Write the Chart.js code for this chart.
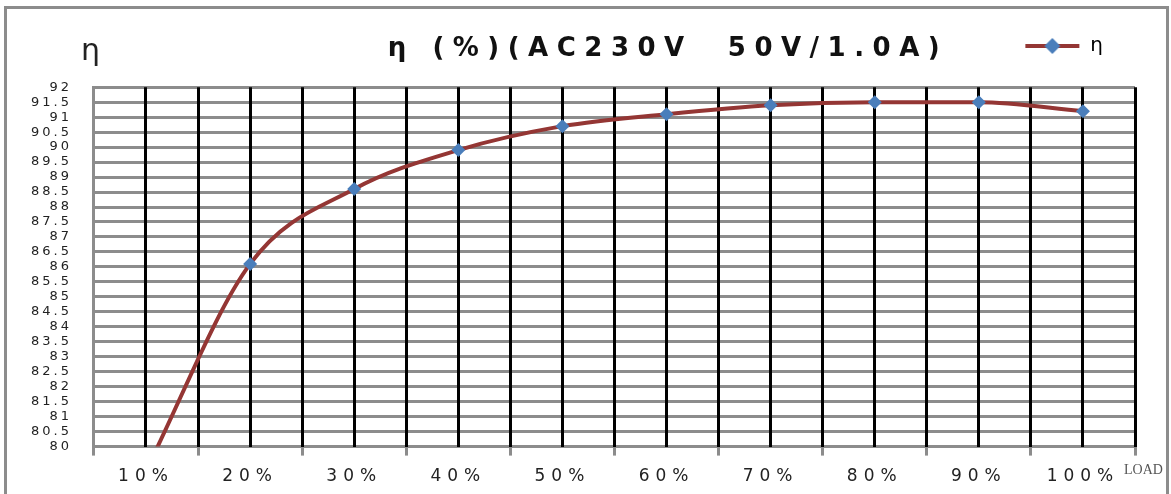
<!DOCTYPE html>
<html>
<head>
<meta charset="utf-8">
<script src="https://cdn.jsdelivr.net/npm/chart.js@4.4.0/dist/chart.umd.min.js"></script>
<style>
    html, body { margin: 0; padding: 0; background: #fff; overflow: hidden; }
    #frame { position: absolute; left: 4px; top: 6px; width: 1159px; height: 600px; border: 3px solid #8c8c8c; border-bottom: none; }
    #wrap { position: absolute; left: 0; top: 0; width: 1171px; height: 494px; }
</style>
</head>
<body>
<div id="frame"></div>
<div id="wrap"><canvas id="effChart" width="1171" height="494"></canvas></div>
<script>
// data
const categories = ['10%', '20%', '30%', '40%', '50%', '60%', '70%', '80%', '90%', '100%'];
const efficiency = [79.2, 86.1, 88.6, 89.9, 90.7, 91.1, 91.4, 91.5, 91.5, 91.2];
const yTicks = { min: 80, max: 92, step: 0.5 };

const lineColor = '#943634';
const markColor = '#4a7ebb';

// legend symbol: line with a diamond in the middle
function legendSymbol() {
    const c = document.createElement('canvas');
    c.width = 56; c.height = 18;
    const g = c.getContext('2d');
    g.strokeStyle = lineColor;
    g.lineWidth = 4;
    g.beginPath(); g.moveTo(1, 9); g.lineTo(55, 9); g.stroke();
    g.fillStyle = markColor;
    g.beginPath(); g.moveTo(28, 1); g.lineTo(36, 9); g.lineTo(28, 17); g.lineTo(20, 9); g.closePath(); g.fill();
    return c;
}

// letter spacing (and an optional x shift) for one drawing method
function wrapText(obj, fn, sp, dx) {
    if (!obj || obj['_sp_' + fn]) return;
    const orig = obj[fn].bind(obj);
    obj[fn] = function(...args) {
        const c = this.ctx;
        c.save();
        c.letterSpacing = sp;
        c.translate(dx || 0, 0);
        orig(...args);
        c.restore();
    };
    obj['_sp_' + fn] = true;
}

const extras = {
    id: 'extras',
    beforeDraw(chart) {
        wrapText(chart.scales.x, 'drawLabels', '6px');
        wrapText(chart.scales.y, 'drawLabels', '3px');
        wrapText(chart.titleBlock, 'draw', '8.5px', 90);
    },
    afterDraw(chart) {
        const ctx = chart.ctx;
        ctx.save();
        ctx.fillStyle = '#222';
        ctx.font = '30px "DejaVu Sans"';
        ctx.textBaseline = 'middle';
        ctx.fillText('η', 81, 52);
        ctx.font = '14px "Liberation Serif"';
        ctx.fillStyle = '#555';
        ctx.fillText('LOAD', 1124, 470);
        ctx.restore();
    }
};

const points = efficiency.map((v, i) => ({ x: i + 1, y: v }));

new Chart(document.getElementById('effChart'), {
    type: 'line',
    data: {
        datasets: [{
            label: 'η',
            data: points,
            borderColor: lineColor,
            borderWidth: 4,
            cubicInterpolationMode: 'monotone',
            pointStyle: 'rectRot',
            pointRadius: 7,
            pointBackgroundColor: markColor,
            pointBorderColor: markColor,
            pointBorderWidth: 0,
            clip: 0
        }]
    },
    options: {
        responsive: false,
        animation: false,
        layout: { padding: { left: 21, right: 36, top: 4, bottom: -4 } },
        scales: {
            x: {
                type: 'linear',
                min: 0.5,
                max: 10.5,
                border: { display: false },
                grid: {
                    z: -1,
                    color: (c) => (c.tick && c.tick.value === 0.5) ? '#8c8c8c' : '#000',
                    lineWidth: 3,
                    tickLength: 9,
                    tickWidth: 3,
                    tickColor: (c) => (c.tick && Number.isInteger(c.tick.value)) ? 'rgba(0,0,0,0)' : '#8c8c8c'
                },
                ticks: {
                    stepSize: 0.5,
                    autoSkip: false,
                    maxRotation: 0,
                    padding: 11,
                    color: '#222',
                    font: { family: '"DejaVu Sans"', size: 17 },
                    callback: (v) => Number.isInteger(v) ? categories[v - 1] : ''
                }
            },
            y: {
                min: yTicks.min,
                max: yTicks.max,
                border: { display: true, color: '#8c8c8c', width: 3 },
                grid: { z: -2, color: '#8c8c8c', lineWidth: 3, drawTicks: false },
                ticks: {
                    stepSize: yTicks.step,
                    autoSkip: false,
                    padding: 22,
                    color: '#222',
                    font: { family: '"DejaVu Sans"', size: 13 },
                    callback: (v) => String(v)
                }
            }
        },
        plugins: {
            title: {
                display: true,
                text: 'η (%)(AC230V  50V/1.0A)',
                color: '#111',
                font: { family: '"DejaVu Sans"', size: 26, weight: 'bold' },
                padding: { top: -32, bottom: 22 }
            },
            legend: {
                position: 'top',
                align: 'end',
                weight: 3000,
                labels: {
                    color: '#222',
                    font: { family: '"DejaVu Sans"', size: 20 },
                    padding: 32,
                    usePointStyle: true,
                    pointStyleWidth: 56,
                    generateLabels: (chart) => [{
                        text: 'η',
                        pointStyle: legendSymbol(),
                        fillStyle: markColor,
                        strokeStyle: lineColor,
                        lineWidth: 0,
                        datasetIndex: 0
                    }]
                }
            },
            tooltip: { enabled: false }
        }
    },
    plugins: [extras]
});
</script>
</body>
</html>
